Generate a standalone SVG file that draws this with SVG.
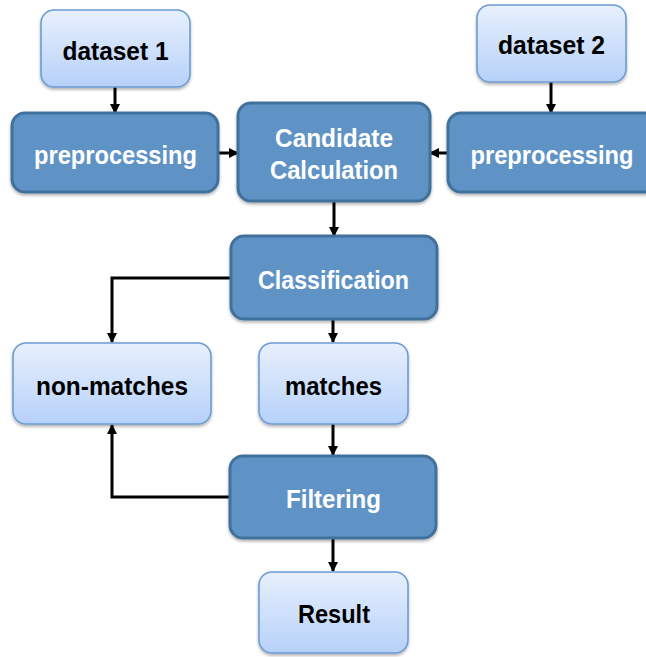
<svg xmlns="http://www.w3.org/2000/svg" width="646" height="657" viewBox="0 0 646 657">
  <defs>
    <linearGradient id="lightFill" x1="0" y1="0" x2="0" y2="1">
      <stop offset="0" stop-color="#e8f0fd"/>
      <stop offset="1" stop-color="#b6d1f9"/>
    </linearGradient>
    <filter id="shadow" x="-10%" y="-10%" width="120%" height="130%">
      <feDropShadow dx="0" dy="2" stdDeviation="1.5" flood-color="#000" flood-opacity="0.3"/>
    </filter>
    <marker id="arrow" viewBox="0 0 10 10" refX="9" refY="5" markerWidth="3.5" markerHeight="3.5" orient="auto" markerUnits="strokeWidth">
      <path d="M0,0 L10,5 L0,10 Z" fill="#000"/>
    </marker>
  </defs>
  <style>
    .dark { fill: #5e93c6; stroke: #41709c; stroke-width: 3; filter: url(#shadow); }
    .light { fill: url(#lightFill); stroke: #6c9cd4; stroke-width: 1.6; filter: url(#shadow); }
    .lbl { font-family: "Liberation Sans", Arial, sans-serif; font-weight: bold; font-size: 25px; text-anchor: middle; }
    .dark-t { fill: #ffffff; }
    .light-t { fill: #000000; }
    .conn { fill: none; stroke: #000; stroke-width: 3; marker-end: url(#arrow); }
  </style>

  <!-- connectors -->
  <g id="connectors">
    <path class="conn" d="M115,87 L115,113"/>
    <path class="conn" d="M551,82 L551,113"/>
    <path class="conn" d="M218,153 L238,153"/>
    <path class="conn" d="M448,153 L430,153"/>
    <path class="conn" d="M334,201 L334,236"/>
    <path class="conn" d="M231,278 L112,278 L112,342"/>
    <path class="conn" d="M333,319 L333,342"/>
    <path class="conn" d="M333,424 L333,455"/>
    <path class="conn" d="M230,497 L112,497 L112,425"/>
    <path class="conn" d="M333,538 L333,571"/>
  </g>

  <g id="dataset1">
    <rect class="light" x="41" y="10" width="149" height="77" rx="13"/>
    <text class="lbl light-t" x="115.5" y="60" textLength="106" lengthAdjust="spacingAndGlyphs">dataset 1</text>
  </g>

  <g id="dataset2">
    <rect class="light" x="477" y="5" width="149" height="77" rx="13"/>
    <text class="lbl light-t" x="551.5" y="54" textLength="107" lengthAdjust="spacingAndGlyphs">dataset 2</text>
  </g>

  <g id="preprocessing1">
    <rect class="dark" x="12" y="113" width="206" height="79" rx="13"/>
    <text class="lbl dark-t" x="115.5" y="164" textLength="163" lengthAdjust="spacingAndGlyphs">preprocessing</text>
  </g>

  <g id="preprocessing2">
    <rect class="dark" x="448" y="113" width="210" height="79" rx="13"/>
    <text class="lbl dark-t" x="552" y="164" textLength="163" lengthAdjust="spacingAndGlyphs">preprocessing</text>
  </g>

  <g id="candidate">
    <rect class="dark" x="238" y="103" width="192" height="98" rx="13"/>
    <text class="lbl dark-t" x="334" y="147" textLength="118" lengthAdjust="spacingAndGlyphs">Candidate</text>
    <text class="lbl dark-t" x="334" y="179" textLength="128" lengthAdjust="spacingAndGlyphs">Calculation</text>
  </g>

  <g id="classification">
    <rect class="dark" x="231" y="236" width="206" height="83" rx="13"/>
    <text class="lbl dark-t" x="333.5" y="289" textLength="151" lengthAdjust="spacingAndGlyphs">Classification</text>
  </g>

  <g id="nonmatches">
    <rect class="light" x="13" y="343" width="198" height="81" rx="13"/>
    <text class="lbl light-t" x="112" y="395" textLength="152" lengthAdjust="spacingAndGlyphs">non-matches</text>
  </g>

  <g id="matches">
    <rect class="light" x="259" y="343" width="149" height="81" rx="13"/>
    <text class="lbl light-t" x="333.5" y="395" textLength="97" lengthAdjust="spacingAndGlyphs">matches</text>
  </g>

  <g id="filtering">
    <rect class="dark" x="230" y="456" width="206" height="82" rx="13"/>
    <text class="lbl dark-t" x="333.5" y="508" textLength="95" lengthAdjust="spacingAndGlyphs">Filtering</text>
  </g>

  <g id="result">
    <rect class="light" x="259" y="572" width="149" height="81" rx="13"/>
    <text class="lbl light-t" x="334" y="623" textLength="72" lengthAdjust="spacingAndGlyphs">Result</text>
  </g>
</svg>
